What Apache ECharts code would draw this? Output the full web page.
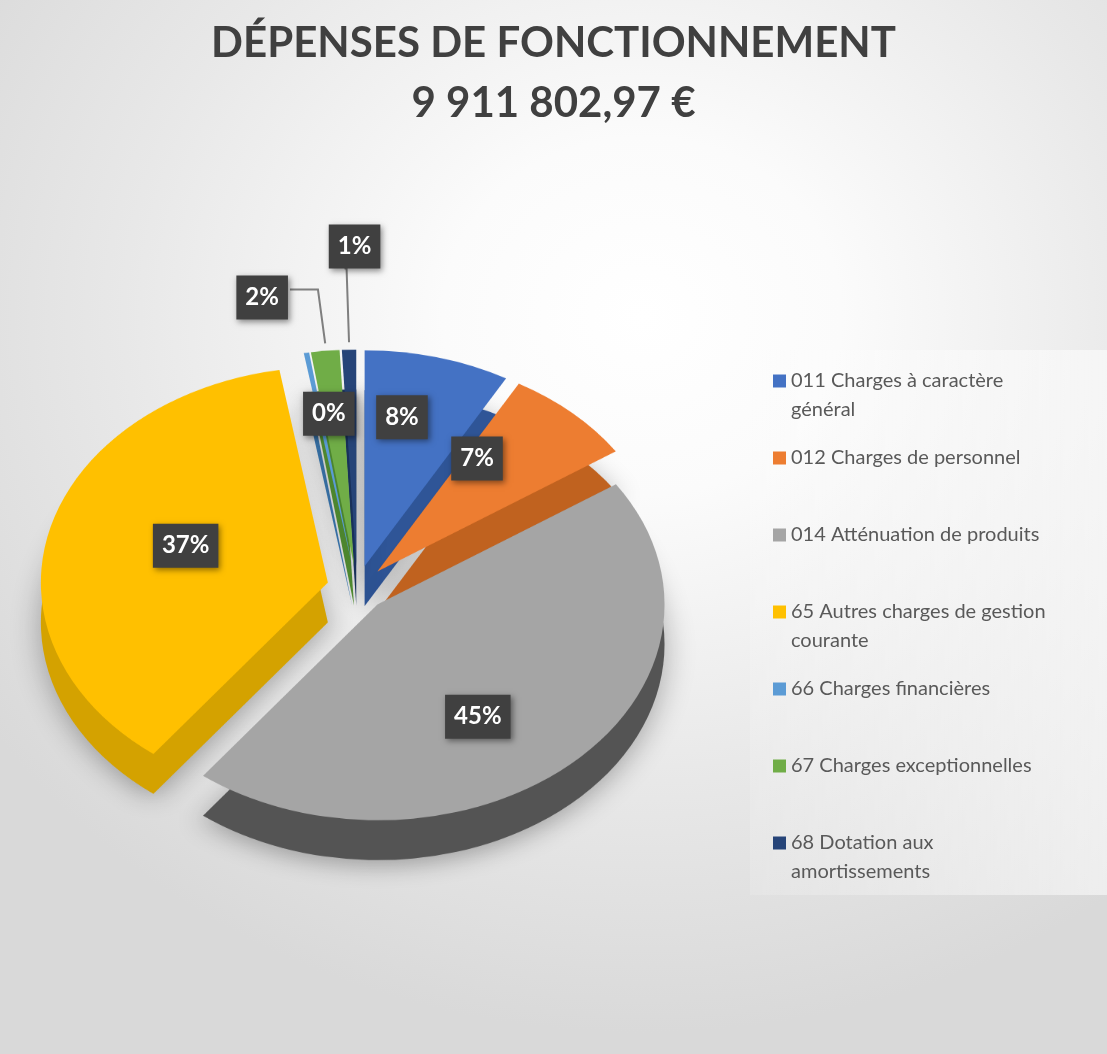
<!DOCTYPE html>
<html>
<head>
<meta charset="utf-8">
<script src="https://cdn.jsdelivr.net/npm/echarts@6/dist/echarts.min.js"></script>
<style>
  html, body { margin: 0; padding: 0; }
  #wrap {
    position: relative; width: 1107px; height: 1054px; overflow: hidden;
    background: radial-gradient(ellipse 72% 68% at 58% 30%, #ffffff 0%, #fbfbfb 25%, #e8e8e8 65%, #d9d9d9 100%);
  }
  #pie, #main { position: absolute; left: 0; top: 0; width: 1107px; height: 1054px; }
  /* squash the pie vertically to get the tilted look */
  #pie { transform-origin: 357px 588px; transform: scaleY(0.752); }
</style>
</head>
<body>
<div id="wrap">
  <div id="pie"></div>
  <div id="main"></div>
</div>
<script>
// données
const titleLines = ['DÉPENSES DE FONCTIONNEMENT', '9 911 802,97 €'];
const categories = [
  '011 Charges à caractère général',
  '012 Charges de personnel',
  '014 Atténuation de produits',
  '65 Autres charges de gestion courante',
  '66 Charges financières',
  '67 Charges exceptionnelles',
  '68 Dotation aux amortissements'
];
const legendLabels = [
  '011 Charges à caractère\ngénéral',
  '012 Charges de personnel',
  '014 Atténuation de produits',
  '65 Autres charges de gestion\ncourante',
  '66 Charges financières',
  '67 Charges exceptionnelles',
  '68 Dotation aux\namortissements'
];
const shares = [8.2, 7.4, 44.8, 36.9, 0.3, 1.6, 0.8];
const topColors = ['#4472c4', '#ed7d31', '#a5a5a5', '#ffc000', '#5b9bd5', '#70ad47', '#264478'];
const sideColors = ['#2f5597', '#c0621f', '#545454', '#d4a200', '#3d7bb5', '#4f8a30', '#18305a'];
const outsideIdx = [5, 6];

// mise en page
const S = 0.752;           // écrasement vertical
const CX = 357, CY = 588;  // centre du camembert
const R = 287;
const EXPLODE = 30;
const DEPTH = 53;
const FONT = 'Lato, "Open Sans", sans-serif';

const pieChart = echarts.init(document.getElementById('pie'));
pieChart.setOption({
  animation: false,
  series: [
    {
      type: 'pie', silent: true,
      center: [CX, CY + DEPTH], radius: R,
      startAngle: 90, selectedMode: 'multiple', selectedOffset: EXPLODE,
      label: { show: false }, labelLine: { show: false },
      itemStyle: { shadowBlur: 30, shadowColor: 'rgba(0,0,0,0.3)', shadowOffsetY: 8 },
      data: categories.map((c, i) => ({ name: c, value: shares[i], selected: true, itemStyle: { color: sideColors[i] } }))
    },
    {
      type: 'pie', silent: true,
      center: [CX, CY], radius: R,
      startAngle: 90, selectedMode: 'multiple', selectedOffset: EXPLODE,
      label: { show: false }, labelLine: { show: false },
      data: categories.map((c, i) => ({ name: c, value: shares[i], selected: true, itemStyle: { color: topColors[i] } }))
    }
  ]
});

const squash = y => CY + (y - CY) * S;

const mainChart = echarts.init(document.getElementById('main'));
mainChart.setOption({
  animation: false,
  title: {
    text: titleLines.join('\n'),
    left: 'center', top: 8,
    textStyle: { fontFamily: FONT, fontSize: 42, fontWeight: 'bold', color: '#404040', lineHeight: 60 }
  },
  graphic: [{
    type: 'rect', silent: true, z: -1,
    shape: { x: 750, y: 350, width: 357, height: 545 },
    style: { fill: new echarts.graphic.LinearGradient(0, 0, 1, 0, [
      { offset: 0, color: 'rgba(255,255,255,0.15)' },
      { offset: 1, color: 'rgba(255,255,255,0.55)' }
    ]) }
  }],
  legend: categories.map((c, i) => ({
    data: [{ name: c, itemStyle: { color: topColors[i] } }],
    left: 773, top: 381 + 77 * i - 43.5,
    padding: 0, icon: 'rect', itemWidth: 13, itemHeight: 13,
    selectedMode: false,
    formatter: () => '\n' + legendLabels[i] + (legendLabels[i].indexOf('\n') < 0 ? '\n ' : ''),
    textStyle: { fontFamily: FONT, fontSize: 20, lineHeight: 29, color: '#595959' }
  })),
  series: [{
    type: 'pie', silent: true,
    center: [CX, CY], radius: R,
    startAngle: 90, selectedMode: 'multiple', selectedOffset: EXPLODE,
    avoidLabelOverlap: false,
    itemStyle: { color: 'rgba(0,0,0,0)' },
    label: {
      show: true, position: 'inside',
      formatter: p => Math.round(p.percent) + '%',
      fontFamily: FONT, fontSize: 24, fontWeight: 'bold', color: '#ffffff', lineHeight: 30,
      backgroundColor: '#404040', padding: [7, 9],
      shadowColor: 'rgba(0,0,0,0.45)', shadowBlur: 6, shadowOffsetX: 2, shadowOffsetY: 2
    },
    labelLine: { show: false },
    labelLayout: p => {
      const r = p.labelRect;
      const cy = r.y + r.height / 2;
      if (p.labelLinePoints) {
        // étiquette au-dessus du trait pour la plus petite part
        const above = p.dataIndex === 6;
        return {
          dx: above ? r.width / 2 + 12 : 0,
          dy: squash(cy) - cy + (above ? -r.height / 2 : 8),
          labelLinePoints: p.labelLinePoints.map(pt => [pt[0], squash(pt[1])])
        };
      }
      return { x: r.x + r.width / 2, y: squash(cy), align: 'center', verticalAlign: 'middle' };
    },
    data: categories.map((c, i) => {
      const d = { name: c, value: shares[i], selected: true };
      if (outsideIdx.indexOf(i) >= 0) {
        d.label = { position: 'outside', distanceToLabelLine: 2 };
        d.labelLine = {
          show: true, length: i === 6 ? 98 : 72, length2: i === 6 ? 2 : 28,
          lineStyle: { color: '#7f7f7f', width: 2 }
        };
      }
      return d;
    })
  }]
});
</script>
</body>
</html>
